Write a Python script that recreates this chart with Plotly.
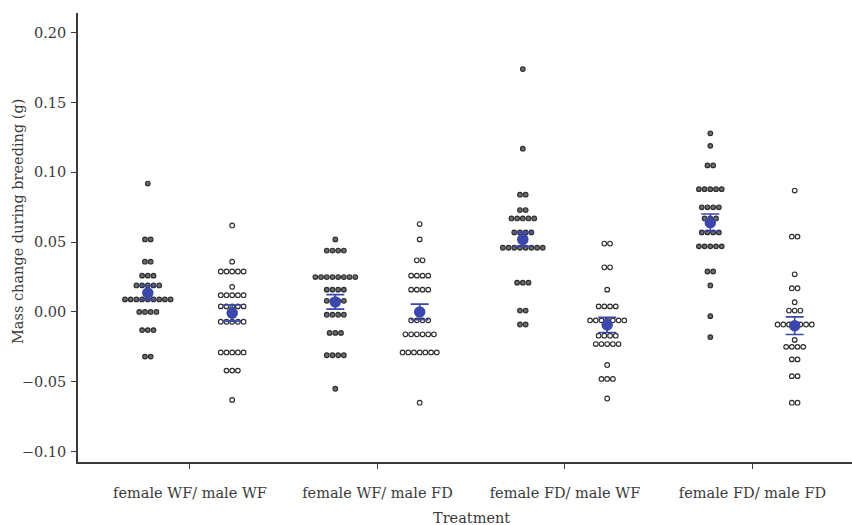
import plotly.graph_objects as go
from collections import Counter

# Treatment groups (female diet / male diet)
treatments = ["female WF/ male WF", "female WF/ male FD",
              "female FD/ male WF", "female FD/ male FD"]

# Individual mass changes (g), females
female_wf_wf = [0.092, 0.052, 0.052, 0.036, 0.036, 0.026, 0.026, 0.026,
                0.019, 0.019, 0.019, 0.019, 0.019,
                0.009, 0.009, 0.009, 0.009, 0.009, 0.009, 0.009, 0.009, 0.009,
                0.000, 0.000, 0.000, 0.000, -0.013, -0.013, -0.013, -0.032, -0.032]
female_wf_fd = [0.052, 0.044, 0.044, 0.044, 0.044,
                0.025, 0.025, 0.025, 0.025, 0.025, 0.025, 0.025, 0.025,
                0.016, 0.016, 0.016, 0.016, 0.008, 0.008, 0.008, 0.008,
                -0.002, -0.002, -0.002, -0.002, -0.015, -0.015, -0.015,
                -0.031, -0.031, -0.031, -0.031, -0.055]
female_fd_wf = [0.174, 0.117, 0.084, 0.084, 0.073, 0.073,
                0.067, 0.067, 0.067, 0.067, 0.067, 0.057, 0.057, 0.057, 0.057,
                0.046, 0.046, 0.046, 0.046, 0.046, 0.046, 0.046, 0.046,
                0.021, 0.021, 0.021, 0.001, 0.001, -0.009, -0.009]
female_fd_fd = [0.128, 0.119, 0.105, 0.105, 0.088, 0.088, 0.088, 0.088, 0.088,
                0.075, 0.075, 0.075, 0.075, 0.067, 0.067, 0.067,
                0.057, 0.057, 0.057, 0.057, 0.047, 0.047, 0.047, 0.047, 0.047,
                0.029, 0.029, 0.019, -0.003, -0.018]

# Individual mass changes (g), males
male_wf_wf = [0.062, 0.036, 0.029, 0.029, 0.029, 0.029, 0.029, 0.018,
              0.012, 0.012, 0.012, 0.012, 0.012, 0.004, 0.004, 0.004, 0.004, 0.004,
              -0.007, -0.007, -0.007, -0.007, -0.007,
              -0.029, -0.029, -0.029, -0.029, -0.029, -0.042, -0.042, -0.042, -0.063]
male_wf_fd = [0.063, 0.052, 0.037, 0.037, 0.026, 0.026, 0.026, 0.026,
              0.016, 0.016, 0.016, 0.016, -0.006, -0.006, -0.006, -0.006,
              -0.016, -0.016, -0.016, -0.016, -0.016, -0.016,
              -0.029, -0.029, -0.029, -0.029, -0.029, -0.029, -0.029, -0.065]
male_fd_wf = [0.049, 0.049, 0.032, 0.032, 0.016, 0.004, 0.004, 0.004, 0.004,
              -0.006, -0.006, -0.006, -0.006, -0.006, -0.006, -0.006,
              -0.017, -0.017, -0.017, -0.017, -0.023, -0.023, -0.023, -0.023, -0.023,
              -0.038, -0.048, -0.048, -0.048, -0.062]
male_fd_fd = [0.087, 0.054, 0.054, 0.027, 0.017, 0.017, 0.007, 0.001, 0.001, 0.001,
              -0.009, -0.009, -0.009, -0.009, -0.009, -0.009, -0.009, -0.020,
              -0.025, -0.025, -0.025, -0.025, -0.034, -0.034, -0.046, -0.046,
              -0.065, -0.065]

# Group means and standard errors (g)
female_mean = [0.0136, 0.0072, 0.0520, 0.0640]
female_se = [0.0050, 0.0052, 0.0050, 0.0062]
male_mean = [-0.0008, 0.0000, -0.0093, -0.0098]
male_se = [0.0058, 0.0056, 0.0054, 0.0063]

y_tick_vals = [-0.10, -0.05, 0.00, 0.05, 0.10, 0.15, 0.20]
y_tick_text = ["\u22120.10", "\u22120.05", "0.00", "0.05", "0.10", "0.15", "0.20"]

females = [female_wf_wf, female_wf_fd, female_fd_wf, female_fd_fd]
males = [male_wf_wf, male_wf_fd, male_fd_wf, male_fd_fd]

DODGE = 0.225      # offset of female/male columns from category centre
DOT_STEP = 0.0304  # horizontal spacing of stacked dots (x units)
INK = "#3a3a3a"
BLUE = "#3b47ab"


def stacked(values, centre):
    """Centre-stacked dot positions: equal values share a row."""
    xs, ys = [], []
    for v, n in sorted(Counter(values).items()):
        for i in range(n):
            xs.append(centre + (i - (n - 1) / 2) * DOT_STEP)
            ys.append(v)
    return xs, ys


fig = go.Figure()

for k in range(4):
    for vals, off, fill in ((females[k], -DODGE, "#6e6e6e"), (males[k], DODGE, "#ffffff")):
        xs, ys = stacked(vals, k + 1 + off)
        fig.add_trace(go.Scatter(
            x=xs, y=ys, mode="markers", showlegend=False, hoverinfo="y",
            marker=dict(size=4.6, color=fill, line=dict(color="#2e2e2e", width=1.2)),
        ))

mean_x = [k + 1 - DODGE for k in range(4)] + [k + 1 + DODGE for k in range(4)]
fig.add_trace(go.Scatter(
    x=mean_x, y=female_mean + male_mean, mode="markers", showlegend=False,
    marker=dict(size=11.5, color=BLUE),
    error_y=dict(type="data", array=female_se + male_se, color=BLUE,
                 thickness=1.6, width=9),
))

axis_font = dict(family="DejaVu Serif", size=14.5, color=INK)

fig.update_layout(
    width=852, height=525,
    margin=dict(l=78, r=0, t=13, b=63),
    paper_bgcolor="white", plot_bgcolor="white",
    font=axis_font,
    xaxis=dict(
        range=[0.4027, 4.5307], tickvals=[1, 2, 3, 4], ticktext=treatments,
        showgrid=False, zeroline=False, showline=True, linecolor=INK, linewidth=1.6,
        ticks="outside", ticklen=5, tickwidth=1.2, tickcolor=INK,
        tickfont=axis_font, ticklabelstandoff=12,
    ),
    yaxis=dict(
        range=[-0.1075, 0.2142], tickvals=y_tick_vals, ticktext=y_tick_text,
        showgrid=False, zeroline=False, showline=True, linecolor=INK, linewidth=1.6,
        ticks="outside", ticklen=5, tickwidth=1.2, tickcolor=INK,
        tickfont=axis_font, ticklabelstandoff=2,
    ),
    annotations=[
        dict(text="Mass change during breeding (g)", textangle=-90,
             xref="paper", yref="paper", x=-0.0775, y=0.5345,
             xanchor="center", yanchor="middle", showarrow=False,
             font=dict(family="DejaVu Serif", size=14.5, color=INK)),
        dict(text="Treatment", xref="paper", yref="paper", x=0.5078, y=-0.1247,
             xanchor="center", yanchor="middle", showarrow=False,
             font=dict(family="DejaVu Serif", size=14.5, color=INK)),
    ],
)

fig.write_html("out.html")
